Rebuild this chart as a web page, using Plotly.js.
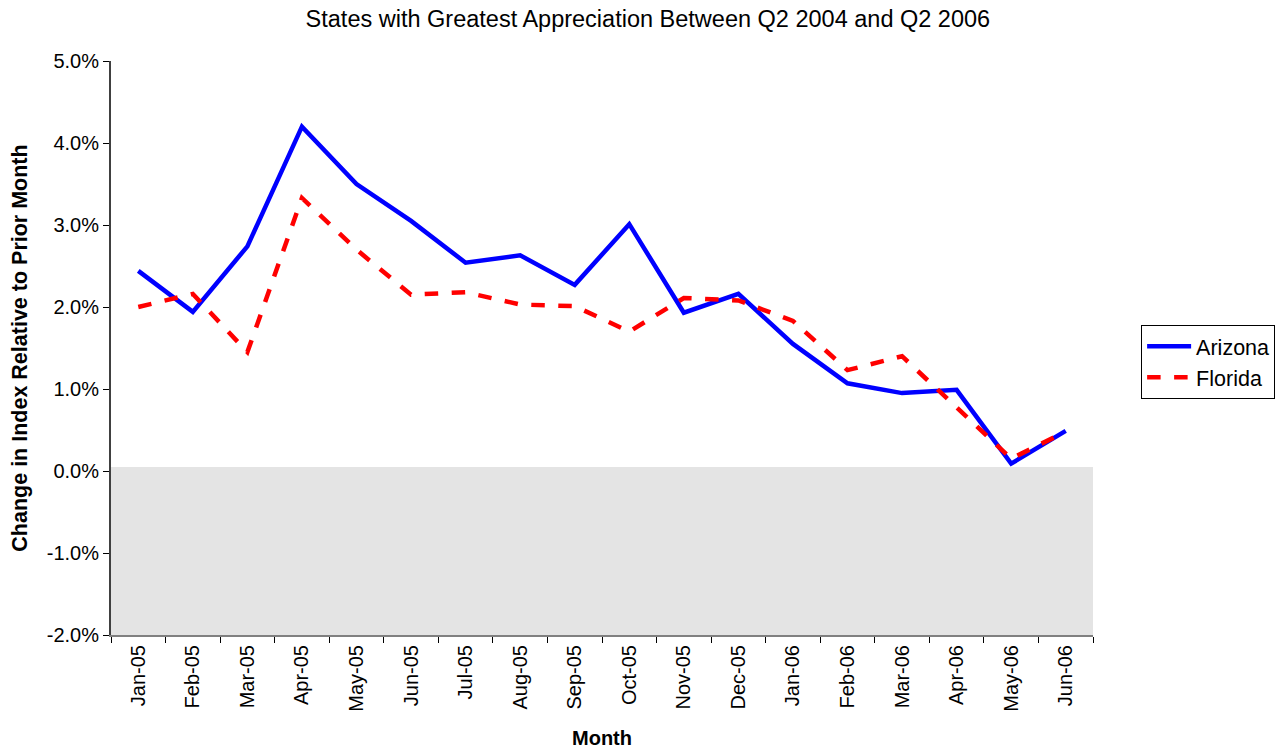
<!DOCTYPE html>
<html>
<head>
<meta charset="utf-8">
<script src="https://cdn.plot.ly/plotly-3.0.1.min.js"></script>
<style>body{margin:0;padding:0;background:#fff;}#chart{width:1288px;height:749px;}</style>
</head>
<body>
<div id="chart"></div>
<script>
const months = ["Jan-05","Feb-05","Mar-05","Apr-05","May-05","Jun-05","Jul-05","Aug-05","Sep-05","Oct-05","Nov-05","Dec-05","Jan-06","Feb-06","Mar-06","Apr-06","May-06","Jun-06"];
const arizona = [2.44,1.94,2.74,4.20,3.50,3.05,2.54,2.63,2.27,3.01,1.93,2.16,1.55,1.07,0.95,0.99,0.09,0.49];
const florida = [2.00,2.16,1.45,3.33,2.70,2.15,2.18,2.03,2.01,1.70,2.11,2.08,1.83,1.23,1.40,0.77,0.15,0.48];
const yTicks = [-2,-1,0,1,2,3,4,5];

const font = "Liberation Sans, Arial, sans-serif";
const traces = [
  {x: months, y: arizona, name: "Arizona", type: "scatter", mode: "lines",
   line: {color: "#0000ff", width: 4.5}},
  {x: months, y: florida, name: "Florida", type: "scatter", mode: "lines",
   line: {color: "#ff0000", width: 4.5, dash: "dash"}}
];
const layout = {
  width: 1288, height: 749,
  margin: {l: 111, r: 195, t: 61, b: 114},
  paper_bgcolor: "#ffffff", plot_bgcolor: "#ffffff",
  font: {family: font, size: 20, color: "#000"},
  title: {text: "States with Greatest Appreciation Between Q2 2004 and Q2 2006",
          font: {family: font, size: 23.5, color: "#000"}, x: 0.503, xanchor: "center", y: 0.975, yanchor: "middle"},
  xaxis: {type: "category", tickvals: months, ticktext: months, tickangle: -90,
          tickson: "boundaries", ticks: "outside", ticklen: 6, tickcolor: "#000",
          showline: true, linecolor: "#808080", linewidth: 2, showgrid: false, zeroline: false,
          tickfont: {family: font, size: 20},
          title: {text: "<b>Month</b>", font: {family: font, size: 20}, standoff: 21},
          range: [-0.5, 17.5]},
  yaxis: {range: [-2, 5], tickvals: yTicks, ticktext: yTicks.map(v => v.toFixed(1) + "%"),
          ticks: "outside", ticklen: 6, tickcolor: "#000",
          showline: true, linecolor: "#404040", linewidth: 2, showgrid: false, zeroline: false,
          tickfont: {family: font, size: 20},
          title: {text: "<b>Change in Index Relative to Prior Month</b>", font: {family: font, size: 21.5}, standoff: 13}},
  shapes: [
    {type: "rect", xref: "paper", yref: "y", x0: 0, x1: 1, y0: -2, y1: 0.05,
     fillcolor: "#e4e4e4", line: {width: 0}, layer: "below"}
  ],
  legend: {x: 1.049, xanchor: "left", y: 0.476, yanchor: "middle",
           bordercolor: "#000", borderwidth: 1, bgcolor: "#fff",
           font: {family: font, size: 21.5}, tracegroupgap: 0, itemwidth: 44},
  showlegend: true
};
Plotly.newPlot("chart", traces, layout, {displayModeBar: false, staticPlot: true});
</script>
</body>
</html>
